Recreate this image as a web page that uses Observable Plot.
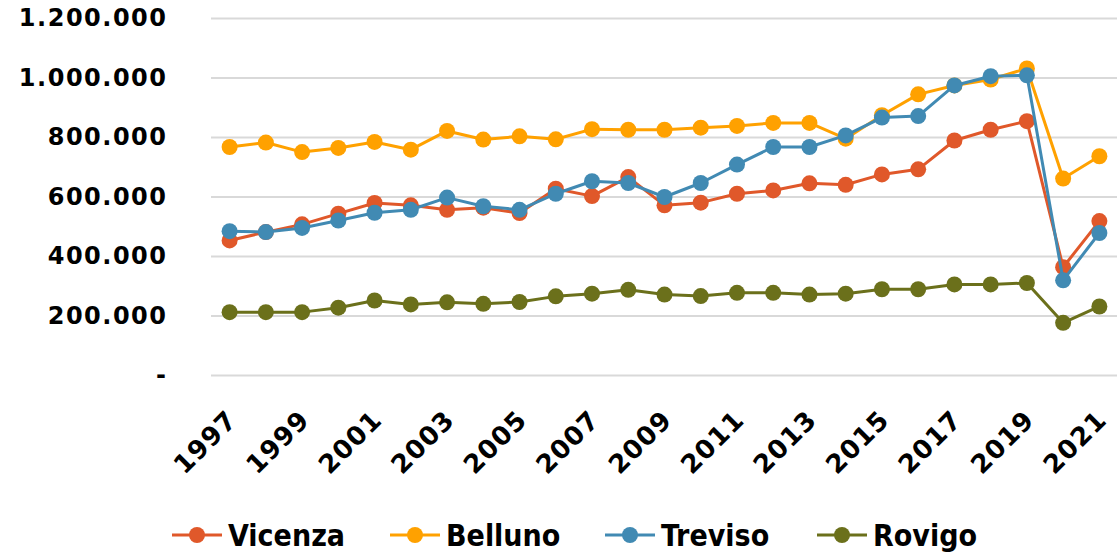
<!DOCTYPE html>
<html><head><meta charset="utf-8">
<script src="https://cdn.jsdelivr.net/npm/d3@7"></script>
<script src="https://cdn.jsdelivr.net/npm/@observablehq/plot@0.6"></script>
<style>
body{margin:0;background:#fff;width:1117px;height:556px;overflow:hidden;}
#legend{position:relative;height:56px;font-family:"DejaVu Sans Condensed","DejaVu Sans",sans-serif;font-weight:bold;font-size:30px;color:#000;}
.item{position:absolute;top:18px;display:flex;align-items:center;height:34px;}
.item svg{margin-right:6px;}
</style></head>
<body>
<div id="chart"></div>
<div id="legend"></div>
<script>
const years = d3.range(1997, 2022);
const vicenza = [454000,482000,508000,544000,580000,572000,557000,564000,546000,628000,603000,667000,572000,581000,611000,622000,646000,641000,676000,693000,790000,826000,855000,364000,519000];
const belluno = [768000,783000,751000,765000,785000,759000,822000,793000,804000,794000,828000,826000,826000,833000,839000,849000,849000,796000,875000,945000,975000,995000,1032000,662000,737000];
const treviso = [485000,482000,496000,521000,547000,557000,598000,569000,557000,611000,653000,647000,600000,647000,709000,768000,768000,807000,867000,872000,975000,1006000,1009000,320000,479000];
const rovigo  = [213000,213000,213000,228000,252000,239000,246000,241000,247000,266000,275000,288000,272000,267000,278000,278000,272000,275000,290000,290000,306000,306000,311000,177000,232000];
const seriesNames = ["Vicenza","Belluno","Treviso","Rovigo"];
const seriesValues = [vicenza, belluno, treviso, rovigo];
const colors = ["#e0582a","#ffa100","#418ab3","#6b701b"];
const xTicks = [1997,1999,2001,2003,2005,2007,2009,2011,2013,2015,2017,2019,2021];
const yTicks = [0,200000,400000,600000,800000,1000000,1200000];

const fmt = d => d === 0 ? "-" : d3.format(",")(d).replace(/,/g, ".");

const marks = [
  Plot.gridY(yTicks, {stroke:"#d9d9d9", strokeOpacity:1, strokeWidth:2}),
  Plot.axisY({ticks:yTicks, tickFormat:fmt, tickSize:0, tickPadding:44, fontSize:24, fontWeight:"bold", fontFamily:"DejaVu Sans", label:null}),
  Plot.axisX({ticks:xTicks, tickFormat:d=>String(d), tickSize:0, tickRotate:-45, tickPadding:40, dx:3, fontSize:26, fontWeight:"bold", fontFamily:"DejaVu Sans", label:null})
];
seriesNames.forEach((name, i) => {
  const data = years.map((y, j) => ({year:y, value:seriesValues[i][j]}));
  marks.push(Plot.line(data, {x:"year", y:"value", stroke:colors[i], strokeWidth:3}));
  marks.push(Plot.dot(data, {x:"year", y:"value", fill:colors[i], r:8}));
});

const chart = Plot.plot({
  width:1117, height:500,
  marginLeft:211, marginRight:0, marginTop:18, marginBottom:125,
  x:{domain:[1996.5, 2021.5]},
  y:{domain:[0,1200000]},
  style:{background:"#fff", color:"#000", overflow:"visible"},
  marks
});
chart.querySelectorAll("g[aria-label='y-axis tick label'] text").forEach(t => t.style.letterSpacing = "1.5px");
chart.querySelectorAll("g[aria-label='x-axis tick label'] text").forEach(t => t.style.letterSpacing = "1px");
document.getElementById("chart").appendChild(chart);

const legend = document.getElementById("legend");
const lefts = [172, 390, 605, 817];
seriesNames.forEach((name, i) => {
  const it = document.createElement("div");
  it.className = "item";
  it.style.left = lefts[i] + "px";
  it.innerHTML = `<svg width="50" height="20"><line x1="0" y1="10" x2="50" y2="10" stroke="${colors[i]}" stroke-width="3"/><circle cx="25" cy="10" r="8" fill="${colors[i]}"/></svg><span>${name}</span>`;
  legend.appendChild(it);
});
</script>
</body></html>
